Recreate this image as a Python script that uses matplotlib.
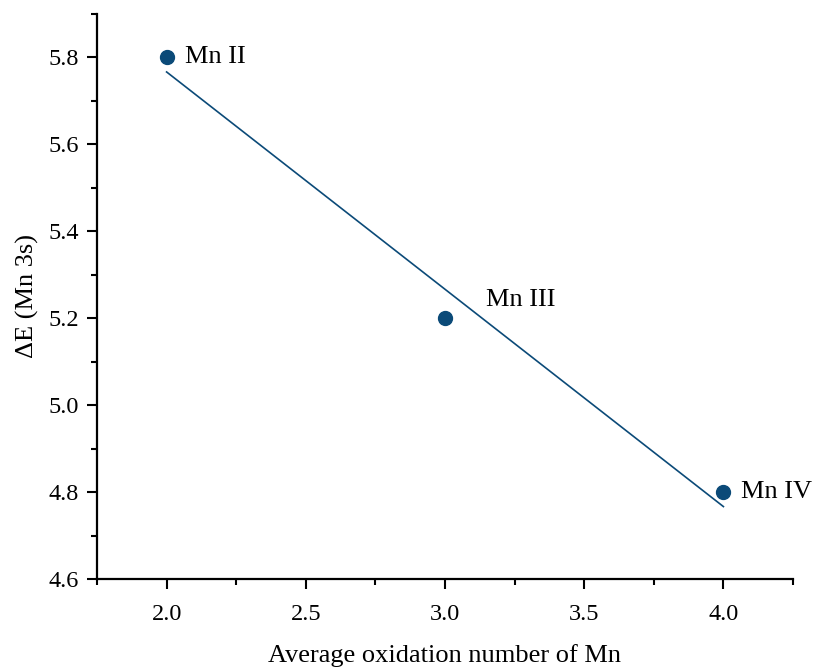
import matplotlib.pyplot as plt
import numpy as np

plt.rcParams['font.family'] = ['Liberation Serif', 'DejaVu Serif']

oxidation = [2.0, 3.0, 4.0]
delta_e = [5.8, 5.2, 4.8]
labels = ['Mn II', 'Mn III', 'Mn IV']
label_offsets = [(18, 0), (41, 18), (18, 0)]

color = '#0b4a78'

fig = plt.figure(figsize=(8.17, 6.68), dpi=100)
ax = fig.add_axes([97 / 817, 89 / 668, 696 / 817, 565 / 668])

# linear fit
slope, intercept = np.polyfit(oxidation, delta_e, 1)
fit_x = np.array([min(oxidation), max(oxidation)])
ax.plot(fit_x, slope * fit_x + intercept, color=color, lw=1.2)
ax.scatter(oxidation, delta_e, s=100, color=color, zorder=3)

for x, y, lab, off in zip(oxidation, delta_e, labels, label_offsets):
    ax.annotate(lab, (x, y), xytext=off, textcoords='offset pixels',
                ha='left', va='center', fontsize=19)

ax.set_xlim(1.75, 4.25)
ax.set_ylim(4.6, 5.9)
ax.set_xticks([2.0, 2.5, 3.0, 3.5, 4.0])
ax.set_xticks([1.75, 2.25, 2.75, 3.25, 3.75, 4.25], minor=True)
ax.set_yticks([4.6, 4.8, 5.0, 5.2, 5.4, 5.6, 5.8])
ax.set_yticks([4.7, 4.9, 5.1, 5.3, 5.5, 5.7, 5.9], minor=True)
ax.xaxis.set_major_formatter(plt.FormatStrFormatter('%.1f'))
ax.yaxis.set_major_formatter(plt.FormatStrFormatter('%.1f'))

ax.spines['top'].set_visible(False)
ax.spines['right'].set_visible(False)
ax.spines['left'].set_linewidth(1.6)
ax.spines['bottom'].set_linewidth(1.6)
ax.tick_params(which='major', direction='out', length=7, width=1.5, labelsize=17.5, pad=6)
ax.tick_params(which='minor', direction='out', length=4, width=1.5)
ax.tick_params(axis='x', pad=11)

ax.set_xlabel('Average oxidation number of Mn', fontsize=19, labelpad=14)
ax.set_ylabel('ΔE (Mn 3s)', fontsize=19, labelpad=7)

fig.savefig('out.png', dpi=100)
